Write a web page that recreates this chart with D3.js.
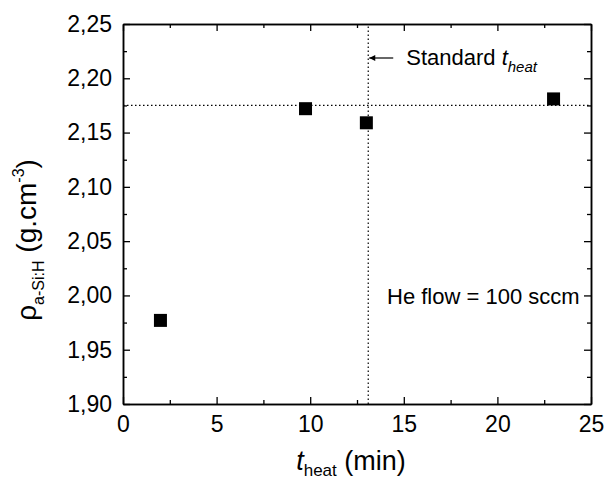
<!DOCTYPE html>
<html>
<head>
<meta charset="utf-8">
<script src="https://cdn.jsdelivr.net/npm/d3@7"></script>
<style>
	body { margin: 0; background: #fff; }
	svg text { font-family: "Liberation Sans", Arial, sans-serif; fill: #000; }
</style>
</head>
<body>
<svg></svg>
<script>
const svgWidth = 606;
const svgHeight = 483;
const margin = {top: 24, right: 15, bottom: 79, left: 123};

// data
const tHeat = [2, 9.75, 13, 23];
const density = [1.977, 2.172, 2.159, 2.181];
const standardTime = 13.1;
const refDensity = 2.175;
const xTicks = [0, 5, 10, 15, 20, 25];
const xMinorTicks = [2.5, 7.5, 12.5, 17.5, 22.5];
const yTicks = [1.90, 1.95, 2.00, 2.05, 2.10, 2.15, 2.20, 2.25];
const yMinorTicks = [1.925, 1.975, 2.025, 2.075, 2.125, 2.175, 2.225];

const points = tHeat.map((t, i) => ({t: t, rho: density[i]}));

const svg = d3.select("svg")
				.attr("width", svgWidth)
				.attr("height", svgHeight);

const xScale = d3.scaleLinear()
				.domain([0, 25])
				.range([margin.left, svgWidth - margin.right]);
const yScale = d3.scaleLinear()
				.domain([1.90, 2.25])
				.range([svgHeight - margin.bottom, margin.top]);

const commaFormat = d => d3.format(".2f")(d).replace(".", ",");

function styleAxis (g) {
	g.selectAll("path.domain").attr("stroke-width", 1.5);
	g.selectAll(".tick line").attr("stroke-width", 1.3);
	g.selectAll("text")
		.attr("font-size", 23)
		.attr("font-family", "Liberation Sans, Arial, sans-serif")
		.attr("fill", "#000");
}

// bottom axis
svg.append("g")
	.attr("transform", `translate(0, ${yScale.range()[0]})`)
	.call(d3.axisBottom(xScale).tickValues(xTicks).tickFormat(d3.format("d"))
		.tickSizeInner(-7).tickSizeOuter(0).tickPadding(12))
	.call(styleAxis);
svg.append("g")
	.attr("transform", `translate(0, ${yScale.range()[0]})`)
	.call(d3.axisBottom(xScale).tickValues(xMinorTicks).tickFormat("")
		.tickSizeInner(-4).tickSizeOuter(0))
	.call(styleAxis);

// top axis
svg.append("g")
	.attr("transform", `translate(0, ${margin.top})`)
	.call(d3.axisTop(xScale).tickValues(xTicks).tickFormat("")
		.tickSizeInner(-7).tickSizeOuter(0))
	.call(styleAxis);
svg.append("g")
	.attr("transform", `translate(0, ${margin.top})`)
	.call(d3.axisTop(xScale).tickValues(xMinorTicks).tickFormat("")
		.tickSizeInner(-4).tickSizeOuter(0))
	.call(styleAxis);

// left axis
svg.append("g")
	.attr("transform", `translate(${margin.left}, 0)`)
	.call(d3.axisLeft(yScale).tickValues(yTicks).tickFormat(commaFormat)
		.tickSizeInner(-7).tickSizeOuter(0).tickPadding(11))
	.call(styleAxis);
svg.append("g")
	.attr("transform", `translate(${margin.left}, 0)`)
	.call(d3.axisLeft(yScale).tickValues(yMinorTicks).tickFormat("")
		.tickSizeInner(-4).tickSizeOuter(0))
	.call(styleAxis);

// right axis
svg.append("g")
	.attr("transform", `translate(${svgWidth - margin.right}, 0)`)
	.call(d3.axisRight(yScale).tickValues(yTicks).tickFormat("")
		.tickSizeInner(-7).tickSizeOuter(0))
	.call(styleAxis);
svg.append("g")
	.attr("transform", `translate(${svgWidth - margin.right}, 0)`)
	.call(d3.axisRight(yScale).tickValues(yMinorTicks).tickFormat("")
		.tickSizeInner(-4).tickSizeOuter(0))
	.call(styleAxis);

// dotted reference lines
svg.append("line")
	.attr("x1", xScale(standardTime))
	.attr("x2", xScale(standardTime))
	.attr("y1", yScale(1.90))
	.attr("y2", yScale(2.25))
	.attr("stroke", "#000")
	.attr("stroke-width", 1.2)
	.attr("stroke-dasharray", "1.5,2.5");

svg.append("line")
	.attr("x1", xScale(0))
	.attr("x2", xScale(25))
	.attr("y1", yScale(refDensity))
	.attr("y2", yScale(refDensity))
	.attr("stroke", "#000")
	.attr("stroke-width", 1.2)
	.attr("stroke-dasharray", "1.5,2.5");

// Data points
const markerSize = 13;
svg.selectAll("rect.point")
	.data(points)
	.enter()
	.append("rect")
		.attr("class", "point")
		.attr("x", d => xScale(d.t) - markerSize / 2)
		.attr("y", d => yScale(d.rho) - markerSize / 2)
		.attr("width", markerSize)
		.attr("height", markerSize)
		.attr("fill", "#000");

// arrow + annotation
svg.append("defs")
	.append("marker")
		.attr("id", "arrow")
		.attr("viewBox", "0 0 10 10")
		.attr("refX", 10)
		.attr("refY", 5)
		.attr("markerWidth", 7)
		.attr("markerHeight", 6)
		.attr("markerUnits", "userSpaceOnUse")
		.attr("orient", "auto")
	.append("path")
		.attr("d", "M0,0 L10,5 L0,10 z")
		.attr("fill", "#000");

svg.append("line")
	.attr("x1", xScale(standardTime) + 25)
	.attr("x2", xScale(standardTime) + 1)
	.attr("y1", 58)
	.attr("y2", 58)
	.attr("stroke", "#000")
	.attr("stroke-width", 1.2)
	.attr("marker-end", "url(#arrow)");

const stdLabel = svg.append("text")
	.attr("x", xScale(standardTime) + 38)
	.attr("y", 65)
	.attr("font-size", 22);
stdLabel.append("tspan").text("Standard ");
stdLabel.append("tspan").text("t").attr("font-style", "italic");
stdLabel.append("tspan").text("heat").attr("font-style", "italic")
	.attr("font-size", 15).attr("dy", 7);

svg.append("text")
	.text("He flow = 100 sccm")
	.attr("x", 387)
	.attr("y", 304)
	.attr("font-size", 22);

// X axis title
const xTitle = svg.append("text")
	.attr("x", 351)
	.attr("y", 470)
	.attr("font-size", 27)
	.attr("text-anchor", "middle");
xTitle.append("tspan").text("t").attr("font-style", "italic");
xTitle.append("tspan").text("heat").attr("font-size", 17).attr("dy", 6);
xTitle.append("tspan").text(" (min)").attr("dy", -6);

// Y axis title
const yTitle = svg.append("text")
	.attr("transform", "rotate(-90)")
	.attr("x", -240)
	.attr("y", 36)
	.attr("font-size", 28)
	.attr("text-anchor", "middle");
yTitle.append("tspan").text("ρ");
yTitle.append("tspan").text("a-Si:H").attr("font-size", 16).attr("dy", 8);
yTitle.append("tspan").text(" (g.cm").attr("dy", -8);
yTitle.append("tspan").text("-3").attr("font-size", 16).attr("dy", -12);
yTitle.append("tspan").text(")").attr("dy", 12);
</script>
</body>
</html>
